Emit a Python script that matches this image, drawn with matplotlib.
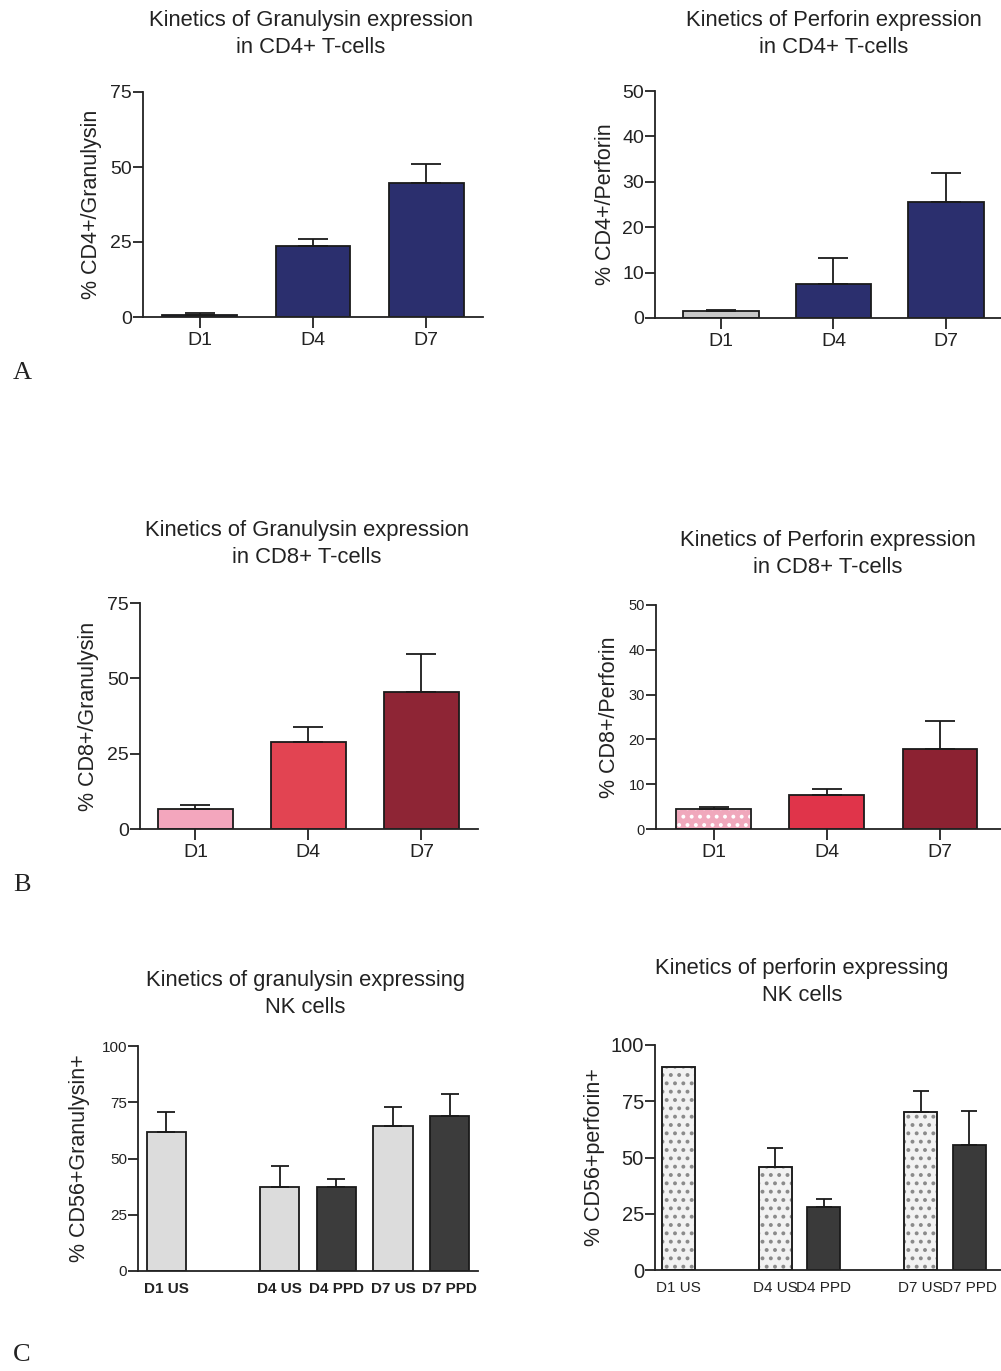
import numpy as np
import matplotlib
matplotlib.use("Agg")
import matplotlib.pyplot as plt

plt.rcParams['font.family'] = ['Liberation Sans', 'DejaVu Sans']
plt.rcParams['hatch.linewidth'] = 1.6

W, H = 1001, 1371

# ---------------- data ----------------
days = ["D1", "D4", "D7"]

cd4_gran = [0.8, 23.7, 44.7]
cd4_gran_err = [0.5, 2.3, 6.3]

cd4_perf = [1.5, 7.5, 25.5]
cd4_perf_err = [0.3, 5.7, 6.5]

cd8_gran = [6.6, 29.0, 45.5]
cd8_gran_err = [1.4, 5.0, 12.5]

cd8_perf = [4.5, 7.5, 17.8]
cd8_perf_err = [0.4, 1.5, 6.2]

nk_gran_labels = ["D1 US", "D4 US", "D4 PPD", "D7 US", "D7 PPD"]
nk_gran = [61.8, 37.4, 37.4, 64.4, 69.0]
nk_gran_err = [8.9, 9.3, 3.6, 8.6, 9.7]

nk_perf_labels = ["D1 US", "D4 US", "D4 PPD", "D7 US", "D7 PPD"]
nk_perf = [90.2, 45.8, 28.0, 70.2, 55.6]
nk_perf_err = [0.0, 8.4, 3.6, 9.4, 15.1]

# ---------------- helpers ----------------
def make_ax(left, right, top, bottom):
    return fig.add_axes([left / W, 1 - bottom / H, (right - left) / W, (bottom - top) / H])

def style(ax, ylim, yticks, xlim, tick_fs=14, xticks=True):
    ax.set_ylim(*ylim)
    ax.set_xlim(*xlim)
    ax.set_yticks(yticks)
    for s in ["top", "right"]:
        ax.spines[s].set_visible(False)
    for s in ["left", "bottom"]:
        ax.spines[s].set_linewidth(1.3)
        ax.spines[s].set_color("#222222")
    ax.tick_params(axis="y", direction="out", length=7, width=1.3, labelsize=tick_fs,
                   colors="#222222", pad=1)
    if xticks:
        ax.tick_params(axis="x", direction="out", length=8, width=1.3, labelsize=14,
                       colors="#222222", pad=3)
    else:
        ax.tick_params(axis="x", length=0, labelsize=11, colors="#222222", pad=8)
    ax.patch.set_alpha(0)

def bars(ax, x, vals, errs, colors, width, hatches=None, hatch_colors=None, capsize=11):
    for i, (xi, v) in enumerate(zip(x, vals)):
        h = hatches[i] if hatches else None
        b = ax.bar(xi, v, width=width, color=colors[i], edgecolor="#1a1a1a", linewidth=1.3,
                   hatch=h, zorder=2)
        if h and hatch_colors:
            b[0].set_edgecolor(hatch_colors[i])
            ax.bar(xi, v, width=width, color="none", edgecolor="#1a1a1a", linewidth=1.3, zorder=3)
    e = np.array(errs)
    mask = e > 0
    ax.errorbar(np.array(x)[mask], np.array(vals)[mask],
                yerr=[np.zeros(mask.sum()), e[mask]], fmt="none", ecolor="#1a1a1a",
                elinewidth=1.3, capsize=capsize, capthick=1.3, zorder=4)

def title(ax, text, x, y, fs=15.8):
    fig.text(x / W, 1 - y / H, text, ha="center", va="center", fontsize=fs,
             color="#222222", linespacing=1.38)

fig = plt.figure(figsize=(W / 100, H / 100), dpi=100)

navy = "#2b2f6e"
pos3 = np.arange(len(days))
YL = 15.5

# ---------------- A left ----------------
ax = make_ax(143, 483, 92, 317)
bars(ax, pos3, cd4_gran, cd4_gran_err, [navy, navy, navy], 0.66)
style(ax, (0, 75), [0, 25, 50, 75], (-0.5, 2.5))
ax.set_xticks(pos3)
ax.set_xticklabels(days)
ax.set_ylabel("% CD4+/Granulysin", fontsize=YL, color="#222222", labelpad=6)
title(ax, "Kinetics of Granulysin expression\nin CD4+ T-cells", 311, 34)

# ---------------- A right ----------------
ax = make_ax(655, 1001, 91, 318)
bars(ax, pos3, cd4_perf, cd4_perf_err, ["#c8c8c8", navy, navy], 0.67)
style(ax, (0, 50), [0, 10, 20, 30, 40, 50], (-0.587, 2.49))
ax.set_xticks(pos3)
ax.set_xticklabels(days)
ax.set_ylabel("% CD4+/Perforin", fontsize=YL, color="#222222", labelpad=4)
title(ax, "Kinetics of Perforin expression\nin CD4+ T-cells", 834, 34)

# ---------------- B left ----------------
ax = make_ax(140, 478, 603, 829)
bars(ax, pos3, cd8_gran, cd8_gran_err, ["#f3a6bd", "#e24452", "#8e2535"], 0.66)
style(ax, (0, 75), [0, 25, 50, 75], (-0.49, 2.5))
ax.set_xticks(pos3)
ax.set_xticklabels(days)
ax.set_ylabel("% CD8+/Granulysin", fontsize=YL, color="#222222", labelpad=6)
title(ax, "Kinetics of Granulysin expression\nin CD8+ T-cells", 307, 544)

# ---------------- B right ----------------
ax = make_ax(656, 1001, 605, 829)
bars(ax, pos3, cd8_perf, cd8_perf_err, ["#f0a8bc", "#e0344a", "#8c2232"], 0.66,
     hatches=["..", None, None], hatch_colors=["#ffffff", None, None])
style(ax, (0, 50), [0, 10, 20, 30, 40, 50], (-0.51, 2.54), tick_fs=10.5)
ax.set_xticks(pos3)
ax.set_xticklabels(days)
ax.set_ylabel("% CD8+/Perforin", fontsize=YL, color="#222222", labelpad=6)
title(ax, "Kinetics of Perforin expression\nin CD8+ T-cells", 828, 554)

# ---------------- C left ----------------
ax = make_ax(138, 478, 1046, 1271)
xg = np.array([0, 2, 3, 4, 5])
cols = ["#dcdcdc" if "US" in l else "#3c3c3c" for l in nk_gran_labels]
bars(ax, xg, nk_gran, nk_gran_err, cols, 0.69, capsize=6.5)
style(ax, (0, 100), [0, 25, 50, 75, 100], (-0.5, 5.5), tick_fs=11, xticks=False)
ax.set_xticks(xg)
ax.set_xticklabels(nk_gran_labels, fontweight="bold", fontsize=11)
ax.set_ylabel("% CD56+Granulysin+", fontsize=YL, color="#222222", labelpad=8)
title(ax, "Kinetics of granulysin expressing\nNK cells", 305, 994)

# ---------------- C right ----------------
ax = make_ax(655, 1001, 1045, 1270)
xp = np.array([0, 2, 3, 5, 6])
cols = ["#f2f2f2" if "US" in l else "#3a3a3a" for l in nk_perf_labels]
hat = [".." if "US" in l else None for l in nk_perf_labels]
hcol = ["#8a8a8a" if "US" in l else None for l in nk_perf_labels]
bars(ax, xp, nk_perf, nk_perf_err, cols, 0.68, hatches=hat, hatch_colors=hcol, capsize=6)
style(ax, (0, 100), [0, 25, 50, 75, 100], (-0.49, 6.66), tick_fs=14.5, xticks=False)
ax.set_xticks(xp)
ax.set_xticklabels(nk_perf_labels, fontsize=11)
ax.set_ylabel("% CD56+perforin+", fontsize=YL, color="#222222", labelpad=4)
title(ax, "Kinetics of perforin expressing\nNK cells", 802, 982)

# ---------------- panel letters ----------------
for lab, y in [("A", 373), ("B", 885), ("C", 1355)]:
    fig.text(22 / W, 1 - y / H, lab, ha="center", va="center", fontsize=19,
             family=["Liberation Serif", "DejaVu Serif"], color="#222222")

fig.savefig("out.png", dpi=100)
